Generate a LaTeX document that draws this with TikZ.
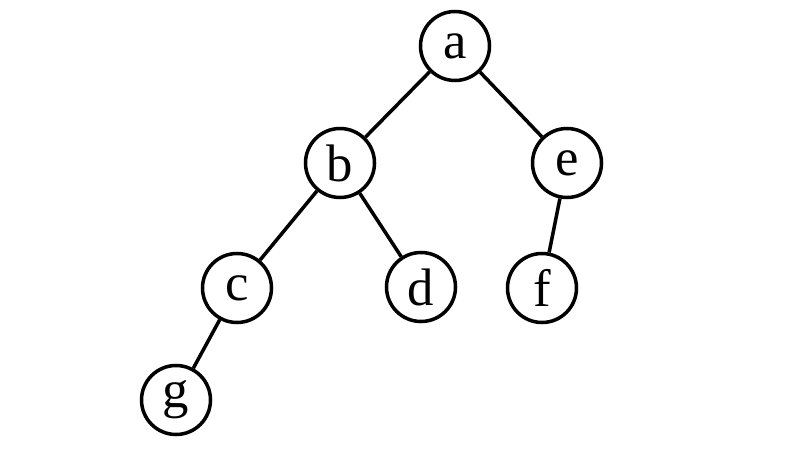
\documentclass[tikz,border=0pt]{standalone}
\usepackage{fontspec}
\setmainfont{Liberation Serif}
\usetikzlibrary{positioning}

\begin{document}
\begin{tikzpicture}
\tikzset{vert/.style={circle,draw=black,line width=2pt,minimum size=1.38cm,inner sep=0pt,font=\fontsize{30}{32}\selectfont},
edge/.style={draw=black,line width=2pt}}
\useasboundingbox (0,0) rectangle (16,9);
\node[vert] (a) at (9.10,8.08) {a};
\node[vert] (b) at (6.80,5.74) {b};
\node[vert] (e) at (11.34,5.74) {e};
\node[vert] (c) at (4.74,3.24) {c};
\node[vert] (d) at (8.42,3.26) {d};
\node[vert] (f) at (10.84,3.24) {f};
\node[vert] (g) at (3.52,1.00) {g};

\draw[edge] (a) -- (b);
\draw[edge] (a) -- (e);
\draw[edge] (b) -- (c);
\draw[edge] (b) -- (d);
\draw[edge] (e) -- (f);
\draw[edge] (c) -- (g);
\end{tikzpicture}
\end{document}
